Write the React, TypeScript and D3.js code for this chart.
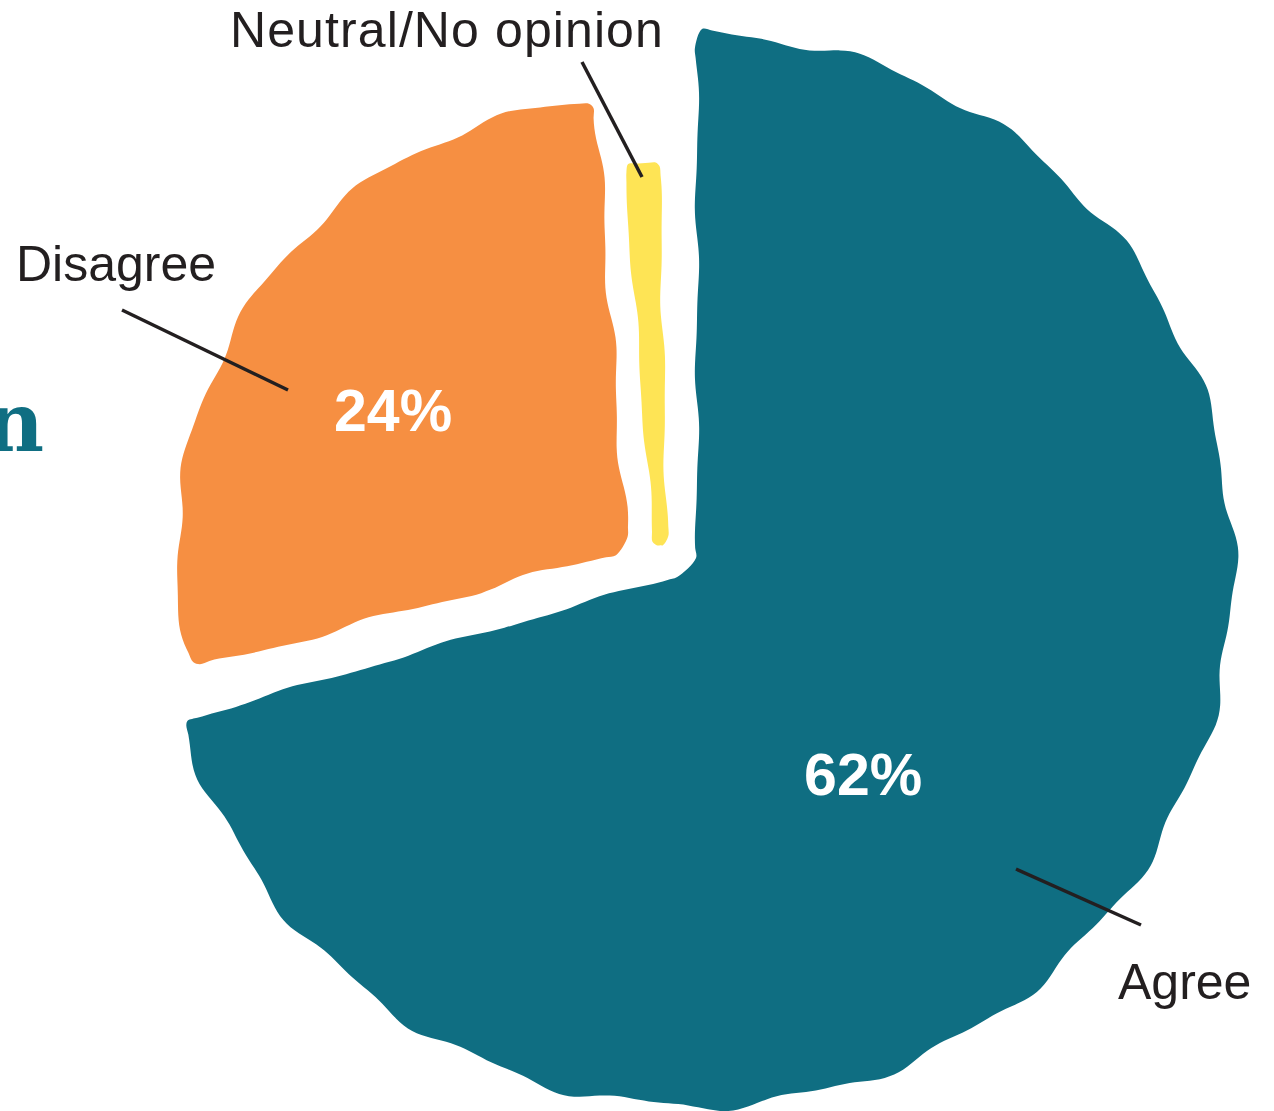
import React from "react";
import * as d3 from "d3";

// ---------- data ----------
const categories = ["Agree", "Disagree", "Neutral/No opinion"];
const values = [62, 24, 2];
const percentLabels = ["62%", "24%", ""];
const titleFragment = "n";

// ---------- layout / style ----------
const W = 1274;
const H = 1111;
const deg = Math.PI / 180;
const TEXT = "#231f20";
const SANS = "'Liberation Sans', Arial, Helvetica, sans-serif";

type SliceStyle = {
  color: string;
  apex: [number, number];
  r0: number;
  r1: number;
  padStart: number;
  padEnd: number;
  seed: number;
  ampArc: number;
  ampEdge: number;
  roundApex: number;
  roundOuter: number;
  labelShift: number;
  labelRadius: number;
};

const sliceStyles: SliceStyle[] = [
  { color: "#0f6e82", apex: [697, 570], r0: 0, r1: 536, padStart: 0, padEnd: 0, seed: 0.3, ampArc: 6, ampEdge: 2.5, roundApex: 12, roundOuter: 5, labelShift: 14 * deg, labelRadius: 263 },
  { color: "#f68f42", apex: [627, 550], r0: 0, r1: 450, padStart: 1 * deg, padEnd: -4.2 * deg, seed: 1.7, ampArc: 5, ampEdge: 4, roundApex: 12, roundOuter: 7, labelShift: -1.7 * deg, labelRadius: 273 },
  { color: "#fee455", apex: [671.5, 782], r0: 237, r1: 620, padStart: 3.8 * deg, padEnd: 1.1 * deg, seed: 2.9, ampArc: 0.5, ampEdge: 2.2, roundApex: 4, roundOuter: 4, labelShift: 0, labelRadius: 400 },
];

const annotations = [
  { line: [1016, 869, 1141, 925], text: [1118, 999], spacing: 0 },
  { line: [122, 310, 288, 390], text: [16, 281], spacing: 0 },
  { line: [582, 62, 642, 177], text: [230, 47], spacing: 1.1 },
];

function buildOutline(s: SliceStyle, a0: number, a1: number): [number, number][] {
  const [ax, ay] = s.apex;
  const pt = (a: number, r: number): [number, number] => [ax + r * Math.sin(a), ay - r * Math.cos(a)];
  const raw: { p: [number, number]; n: [number, number]; amp: number }[] = [];
  const step = 10;
  const innerRound = s.r0 > 0 ? s.roundOuter : s.roundApex;
  const n0: [number, number] = [-Math.cos(a0), -Math.sin(a0)];
  for (let r = s.r0 + innerRound; r <= s.r1 - s.roundOuter; r += step) raw.push({ p: pt(a0, r), n: n0, amp: s.ampEdge });
  const da = s.roundOuter / s.r1;
  const nArc = Math.max(2, Math.ceil((s.r1 * (a1 - a0)) / step));
  for (let i = 0; i <= nArc; i++) {
    const a = a0 + da + ((a1 - a0 - 2 * da) * i) / nArc;
    raw.push({ p: pt(a, s.r1), n: [Math.sin(a), -Math.cos(a)], amp: s.ampArc });
  }
  const n1: [number, number] = [Math.cos(a1), Math.sin(a1)];
  for (let r = s.r1 - s.roundOuter; r >= s.r0 + innerRound; r -= step) raw.push({ p: pt(a1, r), n: n1, amp: s.ampEdge });
  if (s.r0 > 0) {
    const dai = s.roundOuter / s.r0;
    const nIn = Math.max(2, Math.ceil((s.r0 * (a1 - a0)) / step));
    for (let i = 0; i <= nIn; i++) {
      const a = a1 - dai - ((a1 - a0 - 2 * dai) * i) / nIn;
      raw.push({ p: pt(a, s.r0), n: [-Math.sin(a), Math.cos(a)], amp: 0 });
    }
  }
  let sAcc = 0;
  return raw.map((d, i) => {
    if (i > 0) sAcc += Math.hypot(d.p[0] - raw[i - 1].p[0], d.p[1] - raw[i - 1].p[1]);
    const w =
      d.amp *
      (0.72 * Math.sin((2 * Math.PI * sAcc) / 165 + s.seed) + 0.28 * Math.sin((2 * Math.PI * sAcc) / 83 + 2.3 * s.seed));
    return [d.p[0] + w * d.n[0], d.p[1] + w * d.n[1]] as [number, number];
  });
}

export default function App() {
  const pie = d3.pie<number>().sort(null).value((d) => d);
  const arcs = pie(values);
  const line = d3.line().curve(d3.curveCatmullRomClosed.alpha(0.5));

  return (
    <svg
      width={W}
      height={H}
      viewBox={`0 0 ${W} ${H}`}
      style={{ position: "absolute", left: 0, top: 0, background: "#fff" }}
    >
      <rect x={0} y={0} width={W} height={H} fill="#ffffff" />
      <text
        x={44}
        y={451}
        textAnchor="end"
        fontFamily="'DejaVu Serif', serif"
        fontWeight="bold"
        fontSize={82}
        fill="#0f6e82"
      >
        {titleFragment}
      </text>
      {arcs.map((a, i) => {
        const s = sliceStyles[i];
        const a0 = a.startAngle + s.padStart;
        const a1 = a.endAngle - s.padEnd;
        const pts = buildOutline(s, a0, a1);
        return <path key={categories[i]} d={line(pts) || ""} fill={s.color} />;
      })}
      {arcs.map((a, i) => {
        const s = sliceStyles[i];
        if (!percentLabels[i]) return null;
        const mid = (a.startAngle + a.endAngle) / 2 + s.labelShift;
        const x = s.apex[0] + s.labelRadius * Math.sin(mid);
        const y = s.apex[1] - s.labelRadius * Math.cos(mid);
        return (
          <text
            key={"p" + i}
            x={x}
            y={y}
            dy="0.36em"
            textAnchor="middle"
            fontFamily={SANS}
            fontWeight="bold"
            fontSize={59}
            fill="#ffffff"
          >
            {percentLabels[i]}
          </text>
        );
      })}
      {annotations.map((an, i) => (
        <g key={"a" + i}>
          <line
            x1={an.line[0]}
            y1={an.line[1]}
            x2={an.line[2]}
            y2={an.line[3]}
            stroke={TEXT}
            strokeWidth={3.5}
          />
          <text
            x={an.text[0]}
            y={an.text[1]}
            fontFamily={SANS}
            fontSize={50}
            letterSpacing={an.spacing}
            fill={TEXT}
          >
            {categories[i]}
          </text>
        </g>
      ))}
    </svg>
  );
}
